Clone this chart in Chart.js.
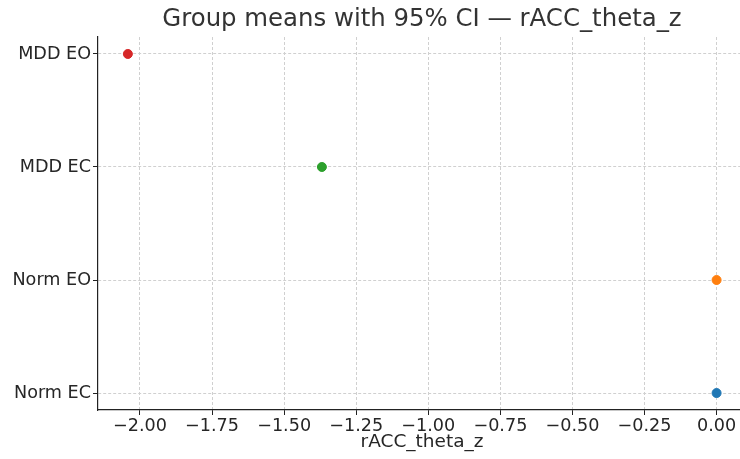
<!DOCTYPE html>
<html>
<head>
<meta charset="utf-8">
<script src="https://cdn.jsdelivr.net/npm/chart.js@4.4.1/dist/chart.umd.min.js"></script>
<style>
  html, body { margin: 0; padding: 0; background: #fff; overflow: hidden; }
  #wrap { width: 760px; height: 459px; position: relative; }
</style>
</head>
<body>
<div id="wrap"><canvas id="chart"></canvas></div>
<script>
// Data
const groups = ['Norm EC', 'Norm EO', 'MDD EC', 'MDD EO'];
const groupMeans = [0.0, 0.0, -1.369, -2.042];
const groupColors = ['#1f77b4', '#ff7f0e', '#2ca02c', '#d62728'];
const xTicks = [-2.0, -1.75, -1.5, -1.25, -1.0, -0.75, -0.5, -0.25, 0.0];
const titleText = 'Group means with 95% CI \u2014 rACC_theta_z';
const xLabel = 'rACC_theta_z';

const FONT = "'DejaVu Sans', sans-serif";

function fmt(v) {
    const s = Math.abs(v) < 1e-9 ? '0.00' : v.toFixed(2);
    return s.replace('-', '\u2212');
}

// title drawn over the plot area centre, like matplotlib does
const titlePlugin = {
    id: 'plotTitle',
    afterDraw(chart) {
        const { ctx, chartArea } = chart;
        ctx.save();
        ctx.font = '24.4px ' + FONT;
        ctx.fillStyle = '#333333';
        ctx.textAlign = 'center';
        ctx.textBaseline = 'middle';
        ctx.fillText(titleText, (chartArea.left + chartArea.right) / 2, 19.5);
        ctx.restore();
    }
};

const points = groups.map((g, i) => ({ x: groupMeans[i], y: i }));

const gridOpts = {
    color: '#d0d0d0',
    tickLength: 5,
    tickColor: '#222',
    tickBorderDash: [],
    drawTicks: true
};

new Chart(document.getElementById('chart'), {
    type: 'scatter',
    data: {
        datasets: [{
            data: points,
            pointBackgroundColor: groupColors,
            pointBorderColor: groupColors,
            pointRadius: 4.5,
            pointHoverRadius: 4.5
        }]
    },
    options: {
        responsive: true,
        maintainAspectRatio: false,
        animation: false,
        layout: { padding: { top: 37, right: 14, left: 0, bottom: 0 } },
        plugins: {
            legend: { display: false },
            tooltip: { enabled: false },
            title: { display: false }
        },
        scales: {
            x: {
                type: 'linear',
                min: -2.1456,
                max: 0.102,
                afterBuildTicks: s => { s.ticks = xTicks.map(v => ({ value: v })); },
                afterFit: s => { s.height = 49; },
                ticks: {
                    callback: v => fmt(v),
                    font: { family: FONT, size: 17.6 },
                    color: '#262626',
                    padding: 1,
                    maxRotation: 0,
                    autoSkip: false
                },
                grid: gridOpts,
                border: { display: true, color: '#222', width: 1.2, dash: [3, 2] },
                title: {
                    display: true,
                    text: xLabel,
                    font: { family: FONT, size: 18.5 },
                    color: '#262626',
                    padding: { top: 0, bottom: 6 }
                }
            },
            y: {
                type: 'linear',
                min: -0.15,
                max: 3.15,
                afterBuildTicks: s => { s.ticks = groups.map((g, i) => ({ value: i })); },
                afterFit: s => { s.width = 98; },
                ticks: {
                    callback: v => groups[v],
                    font: { family: FONT, size: 17.6 },
                    color: '#262626',
                    padding: 2,
                    autoSkip: false
                },
                grid: gridOpts,
                border: { display: true, color: '#222', width: 1.2, dash: [3, 2] }
            }
        }
    },
    plugins: [titlePlugin]
});
</script>
</body>
</html>
